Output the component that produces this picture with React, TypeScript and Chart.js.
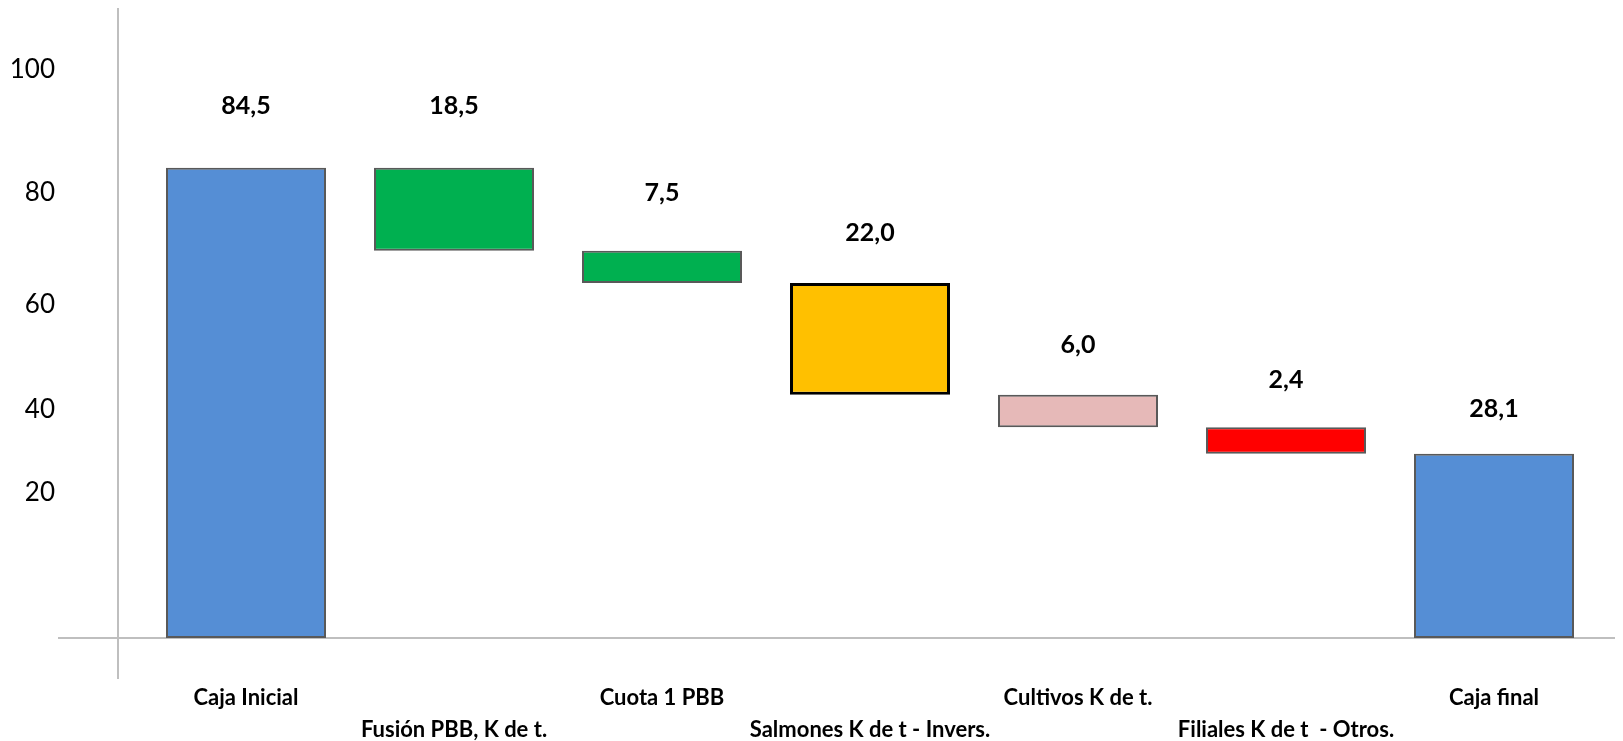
import React, { useEffect, useRef } from "react";
import { Chart, registerables } from "chart.js";

Chart.register(...registerables);

const categories = [
  ["Caja Inicial", ""],
  ["", "Fusión PBB, K de t."],
  ["Cuota 1 PBB", ""],
  ["", "Salmones K de t - Invers."],
  ["Cultivos K de t.", ""],
  ["", "Filiales K de t  - Otros."],
  ["Caja final", ""],
];

const barLow = [0, 69.6, 63.8, 43.7, 37.9, 33.1, 0];
const barHigh = [84.5, 84.5, 69.6, 63.8, 43.7, 37.9, 33.1];
const valueLabels = ["84,5", "18,5", "7,5", "22,0", "6,0", "2,4", "28,1"];
const labelAnchor = [95.6, 95.6, 80.0, 72.8, 52.7, 46.4, 41.2];

const barColors = ["#558ED5", "#00B050", "#00B050", "#FFC000", "#E6B9B8", "#FF0000", "#558ED5"];
const barBorders = ["#595959", "#595959", "#595959", "#000000", "#595959", "#595959", "#595959"];
const barBorderWidths = [2, 2, 2, 3, 2, 2, 2];

const tickValues = [26.1, 41.0, 60.0, 80.0, 102.1];
const tickLabels = ["20", "40", "60", "80", "100"];

const FONT = "Lato, 'Open Sans', sans-serif";

const axisLinesPlugin = {
  id: "axisLines",
  beforeDatasetsDraw(chart: any) {
    const { ctx, chartArea, scales, width } = chart;
    const y0 = scales.y.getPixelForValue(0);
    ctx.save();
    ctx.strokeStyle = "#BFBFBF";
    ctx.lineWidth = 2;
    ctx.beginPath();
    ctx.moveTo(chartArea.left - 84, y0);
    ctx.lineTo(width, y0);
    ctx.stroke();
    const vx = chartArea.left - 24;
    ctx.beginPath();
    ctx.moveTo(vx, 0);
    ctx.lineTo(vx, y0 + 41);
    ctx.stroke();
    ctx.restore();
  },
};

const valueLabelPlugin = {
  id: "valueLabels",
  afterDatasetsDraw(chart: any) {
    const { ctx, scales } = chart;
    ctx.save();
    ctx.fillStyle = "#000";
    ctx.font = `bold 25px ${FONT}`;
    ctx.textAlign = "center";
    ctx.textBaseline = "middle";
    valueLabels.forEach((t, i) => {
      const x = scales.x.getPixelForValue(i);
      const y = scales.y.getPixelForValue(labelAnchor[i]);
      ctx.fillText(t, x, y);
    });
    ctx.restore();
  },
};

export default function App() {
  const ref = useRef<HTMLCanvasElement | null>(null);
  useEffect(() => {
    if (!ref.current) return;
    const chart = new Chart(ref.current, {
      type: "bar",
      data: {
        labels: categories as any,
        datasets: [
          {
            data: barLow.map((lo, i) => [lo, barHigh[i]]) as any,
            backgroundColor: barColors,
            borderColor: barBorders,
            borderWidth: barBorderWidths,
            borderSkipped: false,
            categoryPercentage: 160 / 208,
            barPercentage: 1,
          },
        ],
      },
      options: {
        animation: false,
        responsive: true,
        maintainAspectRatio: false,
        layout: { padding: { left: 0, right: 17, top: 18, bottom: 0 } },
        plugins: { legend: { display: false }, tooltip: { enabled: false } },
        scales: {
          x: {
            grid: { display: false, drawTicks: false },
            border: { display: false },
            ticks: {
              autoSkip: false,
              maxRotation: 0,
              minRotation: 0,
              padding: 44,
              color: "#000",
              font: { family: FONT, size: 22, weight: "bold", lineHeight: "32px" } as any,
            },
            afterFit(scale: any) {
              scale.height = 103;
              scale.paddingLeft = 0;
              scale.paddingRight = 0;
            },
          },
          y: {
            min: 0,
            max: 110,
            grid: { display: false, drawTicks: false },
            border: { display: false },
            afterBuildTicks(scale: any) {
              scale.ticks = tickValues.map((v) => ({ value: v }));
            },
            ticks: {
              padding: 87,
              color: "#000",
              font: { family: FONT, size: 26 },
              callback: (_v: any, i: number) => tickLabels[i],
            },
            afterFit(scale: any) {
              scale.width = 134;
              scale.paddingTop = 0;
              scale.paddingBottom = 0;
            },
          },
        },
      },
      plugins: [axisLinesPlugin, valueLabelPlugin],
    });
    return () => chart.destroy();
  }, []);
  return (
    <div style={{ position: "fixed", left: 8, top: 8, width: 1607, height: 733 }}>
      <canvas ref={ref} />
    </div>
  );
}
